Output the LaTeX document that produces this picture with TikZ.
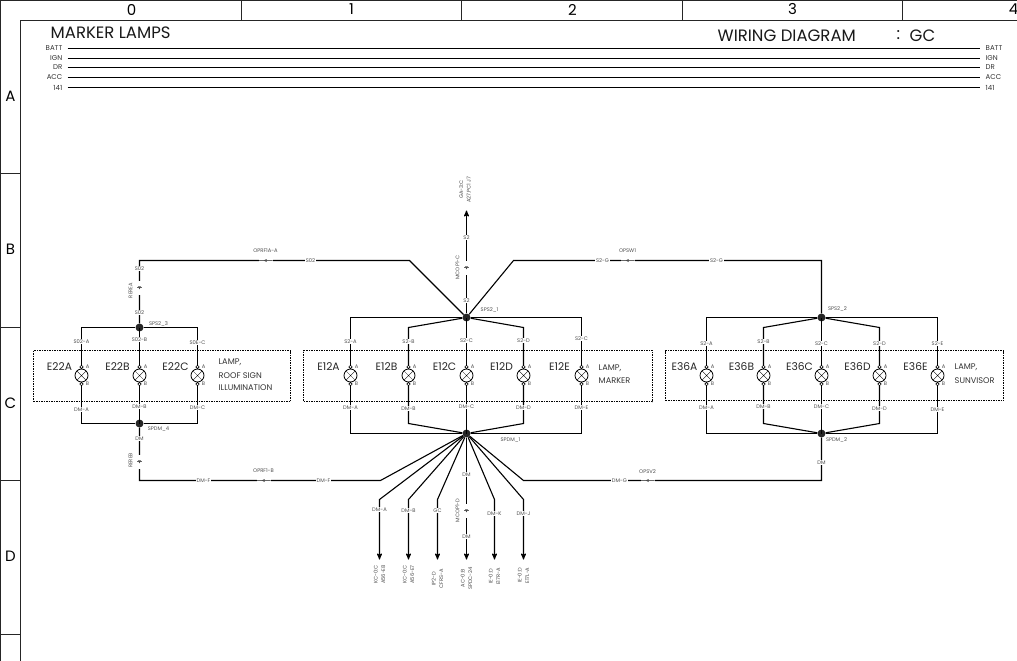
\documentclass[tikz,border=0pt]{standalone}
\usepackage{fontspec}
\setmainfont{Poppins}
\usetikzlibrary{arrows,shapes,positioning}

\begin{document}
\begin{tikzpicture}[x=1pt,y=-1pt,>=stealth',
	wire/.style={line width=1.1pt,black},
	frame line/.style={line width=1pt,black!85},
	lamp node/.style={circle,draw,line width=.8pt,minimum size=13pt,inner sep=0pt,
		path picture={\draw[line width=.35pt] (path picture bounding box.north west) -- (path picture bounding box.south east)
			(path picture bounding box.north east) -- (path picture bounding box.south west);}},
	pin node/.style={circle,draw,fill=white,line width=.6pt,minimum size=3.4pt,inner sep=0pt},
	hub node/.style={circle,fill=black!85,minimum size=8pt,inner sep=0pt},
	dot box/.style={draw,dash pattern=on 1.5pt off 1pt,line width=1.2pt,inner sep=0pt},
	small label/.style={font=\fontsize{5.2}{5.6}\selectfont,text=black!70,inner sep=.6pt},
	wire label/.style={small label,fill=white},
	conn node/.style={fill=white,minimum width=14pt,minimum height=5pt,inner sep=0pt,
		path picture={\draw[line width=.5pt,black!60] (path picture bounding box.west) -- (path picture bounding box.east);
			\fill[black!70] (path picture bounding box.center) ++(-1.8pt,0) -- ++(3pt,1.5pt) -- ++(0,-3pt) -- cycle;}},
	lamp name/.style={font=\fontsize{10.7}{12}\selectfont,text=black!85,inner sep=0pt},
	lamp text/.style={font=\fontsize{8.2}{9}\selectfont,text=black!80,anchor=west,inner sep=0pt},
	head text/.style={font=\fontsize{16.5}{18}\selectfont,text=black!90,anchor=west,inner sep=0pt},
	bus label/.style={font=\fontsize{7}{8}\selectfont,text=black!80}]

	\useasboundingbox (-.5,-.5) rectangle (1016.5,660.5);

	% sheet frame
	\draw[frame line] (1017,0) -- (0,0) -- (0,661);
	\draw[frame line] (1017,20) -- (20,20) -- (20,661);
	\foreach \x in {241,461,682,902}
		\draw[frame line] (\x,0) -- (\x,20);
	\foreach \y in {173,327,480,634}
		\draw[frame line] (0,\y) -- (20,\y);
	\foreach \x/\t in {131/0,351/1,572/2,792/3,1013/4}
		\node[font=\fontsize{15}{16}\selectfont,inner sep=0pt] at (\x,9) {\t};
	\foreach \y/\t in {96/A,249/B,403/C,556/D}
		\node[font=\fontsize{15}{16}\selectfont,inner sep=0pt] at (10,\y) {\t};

	\node[head text] (title) at (50,32) {MARKER LAMPS};
	\node[head text] (sheet) at (717,35) {WIRING DIAGRAM};
	\node[head text] (colon) at (896,35) {:};
	\node[head text] (model) at (909,35) {GC};

	% supply rails
	\foreach \y/\t in {48/BATT,58/IGN,67/DR,77/ACC,87/141} {
		\node[bus label,anchor=east,inner xsep=5pt] (left\t) at (67,\y) {\t};
		\node[bus label,anchor=west,inner xsep=6pt] (right\t) at (979,\y) {\t};
		\draw[wire] (left\t) -- (right\t);
	}

	% lamp boxes
	\node[dot box,minimum width=257pt,minimum height=51pt] (boxE22) at (161.5,375.5) {};
	\node[dot box,minimum width=349pt,minimum height=51pt] (boxE12) at (477.5,375.5) {};
	\node[dot box,minimum width=338pt,minimum height=50pt] (boxE36) at (834,375) {};

	\foreach \name/\x in {E22A/81,E22B/139,E22C/197,
		E12A/350,E12B/408,E12C/466,E12D/523,E12E/581,
		E36A/706,E36B/763,E36C/821,E36D/879,E36E/937} {
		\node[lamp node] (\name) at (\x,375) {};
		\node[pin node,above=-.3pt of \name] (\name-a) {};
		\node[pin node,below=-.3pt of \name] (\name-b) {};
		\node[small label,right=1.5pt of \name-a] (\name-atext) {A};
		\node[small label,right=1.5pt of \name-b] (\name-btext) {B};
		\node[lamp name] (\name-text) at (\x-22,366) {\name};
	}

	\node[lamp text] (roofa) at (218,362) {LAMP,};
	\node[lamp text] (roofb) at (218,375) {ROOF SIGN};
	\node[lamp text] (roofc) at (218,387) {ILLUMINATION};
	\node[lamp text] (markera) at (598,368) {LAMP,};
	\node[lamp text] (markerb) at (598,380) {MARKER};
	\node[lamp text] (sunviza) at (954,367) {LAMP,};
	\node[lamp text] (sunvizb) at (954,380) {SUNVISOR};

	% splices
	\node[hub node] (sps3) at (139,327) {};
	\node[hub node] (spdm4) at (139,423) {};
	\node[hub node] (sps1) at (466,317) {};
	\node[hub node] (spdm1) at (466,433) {};
	\node[hub node] (sps2) at (821,317) {};
	\node[hub node] (spdm2) at (821,433) {};

	% bends and free ends
	\coordinate (topleft) at (139,260);
	\coordinate (topleftb) at (409,260);
	\coordinate (toprightb) at (513,260);
	\coordinate (topright) at (821,260);
	\coordinate (uptip) at (466,210);
	\coordinate (lowleft) at (139,480);
	\coordinate (lowleftb) at (380,480);
	\coordinate (lowrightb) at (523,480);
	\coordinate (lowright) at (821,480);
	\foreach \n/\x in {a/379,b/408,c/437,d/466,e/494,f/523} {
		\coordinate (fan\n) at (\x,499);
		\coordinate (tip\n) at (\x,559);
	}

	% lamp wiring
	\foreach \name/\hub/\low in {E22A/sps3/spdm4,E22B/sps3/spdm4,E22C/sps3/spdm4,
		E12A/sps1/spdm1,E12C/sps1/spdm1,E12E/sps1/spdm1,
		E36A/sps2/spdm2,E36C/sps2/spdm2,E36E/sps2/spdm2} {
		\draw[wire] (\hub) -| (\name-a);
		\draw[wire] (\low) -| (\name-b);
	}
	\foreach \name/\hub/\low in {E12B/sps1/spdm1,E12D/sps1/spdm1,E36B/sps2/spdm2,E36D/sps2/spdm2} {
		\draw[wire] (\hub) -- (\name-a |- sps3) -- (\name-a);
		\draw[wire] (\low) -- (\name-b |- spdm4) -- (\name-b);
	}

	% feeds
	\draw[wire] (sps3) -- (topleft) -- (topleftb) -- (sps1);
	\draw[wire] (sps2) -- (topright) -- (toprightb) -- (sps1);
	\draw[wire,->] (sps1) -- (uptip);
	\draw[wire] (spdm4) -- (lowleft) -- (lowleftb) -- (spdm1);
	\draw[wire] (spdm2) -- (lowright) -- (lowrightb) -- (spdm1);
	\foreach \n in {a,b,c,d,e,f}
		\draw[wire,->] (spdm1) -- (fan\n) -- (tip\n);

	% in-line connectors
	\node[conn node] (opref1a) at (265,260) {};
	\node[conn node,rotate=90] (refrea) at (139,287) {};
	\node[conn node] (opsw1) at (627,260) {};
	\node[conn node,rotate=90] (mcop1c) at (466,267) {};
	\node[conn node,rotate=90] (refreb) at (139,461) {};
	\node[conn node] (opref1b) at (263,480) {};
	\node[conn node] (opsv2) at (647,480) {};
	\node[conn node,rotate=90] (mcop1d) at (466,510) {};

	% labels sitting on a wire
	\foreach \x/\y/\t in {81/341/S02-A,139/339/S02-B,197/342/S0E-C,
		350/341/S2-A,408/341/S2-B,466/340/S2-C,523/340/S2-D,581/338/S2-C,
		706/343/S2-A,763/341/S2-B,821/343/S2-C,879/343/S2-D,937/343/S2-E,
		81/409/DM-A,139/406/DM-B,197/407/DM-C,
		350/407/DM-A,408/408/DM-B,466/406/DM-C,523/407/DM-D,581/407/DM-E,
		706/407/DM-A,763/406/DM-B,821/406/DM-C,879/408/DM-D,937/409/DM-E,
		139/268/S02,139/312/S02,310/260/S02,602/260/S2-G,716/260/S2-G,
		466/237/S2,466/300/S2,139/438/DM,203/480/DM-F,323/480/DM-F,
		619/480/DM-G,821/462/DM,379/509/DM-A,408/510/DM-B,437/510/GC,
		466/474/DM,466/536/DM,494/513/DM-K,523/513/DM-J}
		\node[wire label] at (\x,\y) {\t};

	% labels beside a wire
	\node[small label] (sps3text) at (158,323) {SPS2\_3};
	\node[small label] (spdm4text) at (158,428) {SPDM\_4};
	\node[small label] (sps1text) at (489,309) {SPS2\_1};
	\node[small label] (spdm1text) at (510,439) {SPDM\_1};
	\node[small label] (sps2text) at (837,308) {SPS2\_2};
	\node[small label] (spdm2text) at (836,439) {SPDM\_2};
	\node[small label,above=4pt of opref1a] (opref1atext) {OPRF1A-A};
	\node[small label,above=4pt of opsw1] (opsw1text) {OPSW1};
	\node[small label,above=4pt of opref1b] (opref1btext) {OPRF1-B};
	\node[small label,above=3pt of opsv2] (opsv2text) {OPSV2};
	\foreach \x/\y/\t in {130/290/REREA,130/460/REREB,457/267/MCOP1-C,457/510/MCOP1-D}
		\node[small label,rotate=90] at (\x,\y) {\t};

	% far ends
	\node[small label,rotate=90,align=center] (farup) at (464.5,189) {GA-3:C\\[2pt]A27.PC1 J7};
	\foreach \x/\y/\ta/\tb in {379/574/KC-0:C/A56-E8,408/574/KC-0:C/A56-E7,437/578/IP2-D/CFRS-A,
		466/578/AC-0:B/SPDC-24,494/576/IE-0:D/E17R-A,523/575/IE-0:D/E17L-A}
		\node[small label,rotate=90,align=center] at (\x,\y) {\ta\\[2pt]\tb};

\end{tikzpicture}
\end{document}
